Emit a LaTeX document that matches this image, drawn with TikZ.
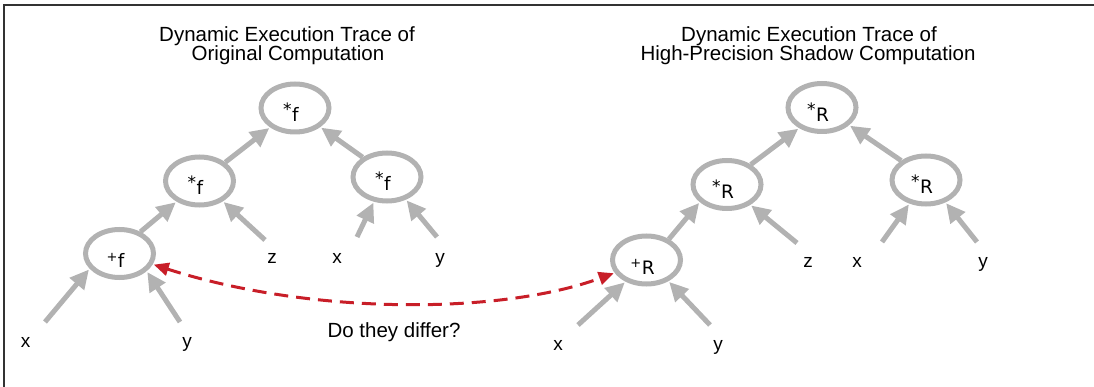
\documentclass[tikz,border=0pt]{standalone}
\usepackage{fontspec}
\setmainfont{Liberation Sans}
\newfontfamily\labfont{DejaVu Sans}
\usetikzlibrary{arrows.meta,shapes.geometric}
\definecolor{edgegray}{RGB}{178,178,178}
\definecolor{diffred}{RGB}{200,30,40}
\definecolor{framec}{RGB}{50,50,50}
\newcommand\oplab[3]{\raisebox{#3}{\fontsize{#2}{#2}\selectfont #1}\kern0.5pt}
\newcommand\opstar[1]{\oplab{*}{17}{6pt}#1\rule{0pt}{28pt}\kern8pt}
\newcommand\opplus[1]{\oplab{+}{13}{6pt}#1\rule{0pt}{28pt}\kern8pt}
\begin{document}
\begin{tikzpicture}[x=1pt,y=-1pt,
  op/.style={ellipse, draw=edgegray, line width=5pt, minimum width=68pt, minimum height=48pt, inner sep=0pt, font=\labfont\fontsize{18.5}{18.5}\selectfont},
  leaf/.style={anchor=base, inner sep=0pt, font=\fontsize{19}{19}\selectfont},
  flow/.style={draw=edgegray, line width=5pt, -{Triangle[length=19pt,width=18pt]}, shorten >=1pt},
  diff/.style={draw=diffred, line width=3pt, dash pattern=on 14pt off 8pt, {Triangle[length=15pt,width=13pt]}-{Triangle[length=15pt,width=13pt]}, shorten >=1pt, shorten <=1pt},
  title/.style={inner sep=0pt, anchor=base, font=\fontsize{20.5}{20.5}\selectfont}]
\useasboundingbox (0,0) rectangle (1094,387);
\draw[framec, line width=1.3pt] (4,387) -- (4,5) -- (1094,5);

% titles
\node[title] (tl1) at (287,42) {Dynamic Execution Trace of};
\node[title] (tl2) at (288,60.5) {Original Computation};
\node[title] (tr1) at (809,42) {Dynamic Execution Trace of};
\node[title] (tr2) at (808,60.5) {High-Precision Shadow Computation};

% left tree
\node[op] (tf) at (295,108) {\opstar{f}};
\node[op] (mf) at (199.5,181) {\opstar{f}};
\node[op] (rf) at (387,177) {\opstar{f}};
\node[op] (pf) at (119.5,253.5) {\opplus{f}};

\node[leaf] (lx1) at (25.5,347) {x};
\node[leaf] (ly1) at (187,347) {y};
\node[leaf] (lz1) at (272,263) {z};
\node[leaf] (lx2) at (337,263) {x};
\node[leaf] (ly2) at (440,263) {y};

\coordinate (slx1) at (45,322);
\coordinate (sly1) at (180,322);
\coordinate (slz1) at (265,240);
\coordinate (slx2) at (357,237);
\coordinate (sly2) at (437,237);

\draw[flow] (slx1) -- (pf.207);
\draw[flow] (sly1) -- (pf.327);
\draw[flow] (slz1) -- (mf.319);
\draw[flow] (slx2) -- (rf.242);
\draw[flow] (sly2) -- (rf.310);
\draw[flow] (pf.46) -- (mf.222);
\draw[flow] (mf.36) -- (tf.218);
\draw[flow] (rf.141) -- (tf.323);

% right tree
\node[op] (tR) at (822,107.5) {\opstar{R}};
\node[op] (mR) at (727,184.5) {\opstar{R}};
\node[op] (rR) at (926,180) {\opstar{R}};
\node[op] (pR) at (646.5,260) {\opplus{R}};

\node[leaf] (rx1) at (558,350) {x};
\node[leaf] (ry1) at (718,350) {y};
\node[leaf] (rz1) at (808,268) {z};
\node[leaf] (rx2) at (857,268) {x};
\node[leaf] (ry2) at (983,268) {y};

\coordinate (srx1) at (578,325);
\coordinate (sry1) at (710,325);
\coordinate (srz1) at (797,243);
\coordinate (srx2) at (882,242);
\coordinate (sry2) at (977,242);

\draw[flow] (srx1) -- (pR.226);
\draw[flow] (sry1) -- (pR.316);
\draw[flow] (srz1) -- (mR.319);
\draw[flow] (srx2) -- (rR.235);
\draw[flow] (sry2) -- (rR.311);
\draw[flow] (pR.43) -- (mR.213);
\draw[flow] (mR.40) -- (tR.222);
\draw[flow] (rR.142) -- (tR.327);

% comparison
\draw[diff] (pf.342) .. controls (310,315) and (500,315) .. (pR.202);
\node[title] (q) at (394,337) {Do they differ?};
\end{tikzpicture}
\end{document}
